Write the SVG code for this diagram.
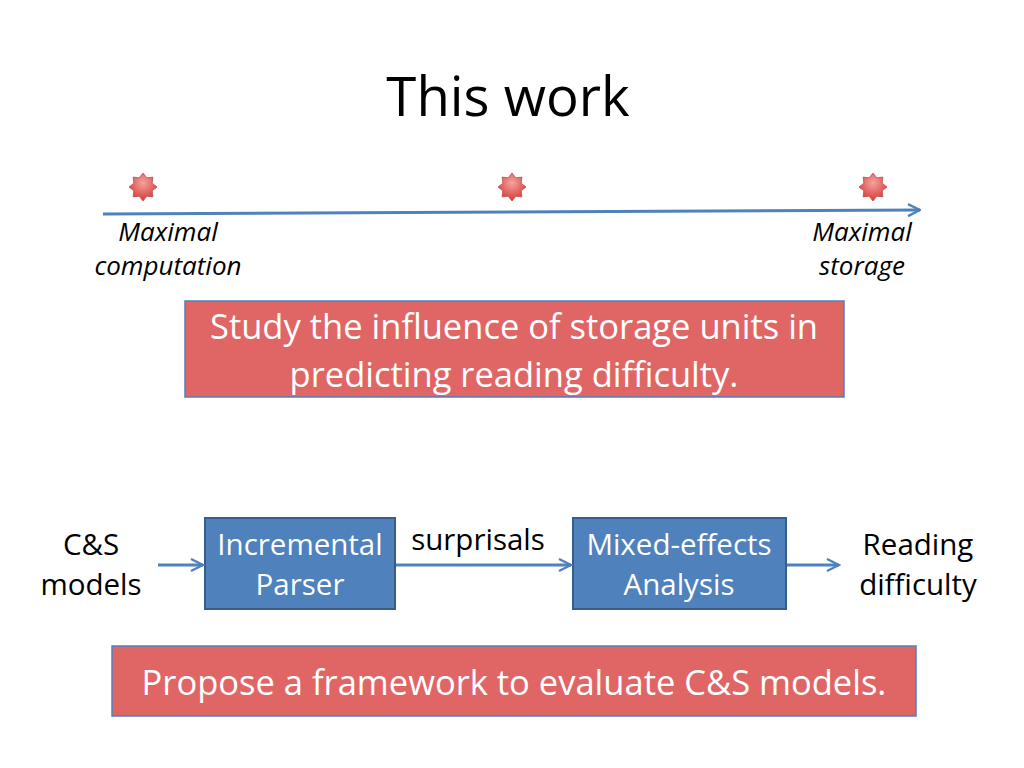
<svg xmlns="http://www.w3.org/2000/svg" width="1024" height="768" viewBox="0 0 1024 768">
<defs>
<style>
text{font-family:"Open Sans","Liberation Sans",sans-serif;text-anchor:middle;}
.title{font-size:54.5px;fill:#000;}
.it{font-size:26px;font-style:italic;fill:#000;}
.lbl{font-size:29.5px;fill:#000;}
.wlbl{font-size:29.5px;fill:#fff;}
.wt{font-size:34.5px;fill:#fff;}
.red{fill:#e06666;stroke:#4f81bd;stroke-width:1.5;}
.blue{fill:#4f81bd;stroke:#385d8a;stroke-width:2;}
.conn{stroke:#4f81bd;stroke-width:3;fill:none;marker-end:url(#ah);}
.star{fill:url(#sg);stroke:#c0504d;stroke-width:0.8;}
</style>
<marker id="ah" viewBox="0 0 10 10" refX="9" refY="5" markerWidth="5" markerHeight="5" orient="auto" markerUnits="strokeWidth">
<path d="M1,1 L9,5 L1,9" fill="none" stroke="#4f81bd" stroke-width="1.6"/>
</marker>
<radialGradient id="sg" cx="0.5" cy="0.35" r="0.6">
<stop offset="0" stop-color="#f2a3a1"/>
<stop offset="1" stop-color="#d9413d"/>
</radialGradient>
<path id="star" d="M0,-14 L3.8,-9.2 L9.9,-9.9 L9.2,-3.8 L14,0 L9.2,3.8 L9.9,9.9 L3.8,9.2 L0,14 L-3.8,9.2 L-9.9,9.9 L-9.2,3.8 L-14,0 L-9.2,-3.8 L-9.9,-9.9 L-3.8,-9.2 Z"/>
</defs>
<rect width="1024" height="768" fill="#fff"/>
<text class="title" x="508" y="116">This work</text>

<g id="star-left"><use href="#star" class="star" x="143" y="187"/></g>
<g id="star-mid"><use href="#star" class="star" x="512" y="187"/></g>
<g id="star-right"><use href="#star" class="star" x="873" y="187"/></g>

<g id="label-computation">
<text class="it" x="168" y="241">Maximal</text>
<text class="it" x="168" y="275">computation</text>
</g>
<g id="label-storage">
<text class="it" x="862" y="241">Maximal</text>
<text class="it" x="862" y="275">storage</text>
</g>

<g id="goal1">
<rect class="red" x="185" y="301" width="659" height="96"/>
<text class="wt" x="514" y="339">Study the influence of storage units in</text>
<text class="wt" x="514" y="387">predicting reading difficulty.</text>
</g>

<g id="input">
<text class="lbl" x="91" y="555">C&amp;S</text>
<text class="lbl" x="91" y="595">models</text>
</g>
<g id="parser">
<rect class="blue" x="205" y="518" width="190" height="91"/>
<text class="wlbl" x="300" y="555">Incremental</text>
<text class="wlbl" x="300" y="595">Parser</text>
</g>
<g id="analysis">
<rect class="blue" x="573" y="518" width="213" height="91"/>
<text class="wlbl" x="679" y="555">Mixed-effects</text>
<text class="wlbl" x="679" y="595">Analysis</text>
</g>
<g id="output">
<text class="lbl" x="918" y="555">Reading</text>
<text class="lbl" x="918" y="595">difficulty</text>
</g>

<g id="connectors">
<path class="conn" d="M103,214 L920,210"/>
<path class="conn" d="M158,565 L203,565"/>
<path class="conn" d="M396,565 L571,565"/>
<path class="conn" d="M787,565 L839,565"/>
<text class="lbl" x="478" y="550">surprisals</text>
</g>

<g id="goal2">
<rect class="red" x="112" y="646" width="804" height="70"/>
<text class="wt" x="514" y="695">Propose a framework to evaluate C&amp;S models.</text>
</g>
</svg>
